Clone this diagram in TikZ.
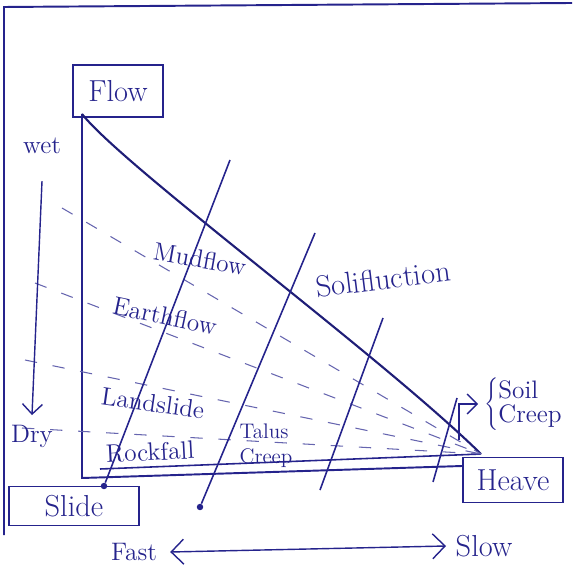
\documentclass[tikz,border=0pt]{standalone}
\usepackage{tikz}
\usetikzlibrary{arrows.meta,positioning}
\definecolor{ink}{HTML}{25238C}
\colorlet{inkline}{ink!85!black}
\colorlet{inkfaint}{ink!70}

\begin{document}
\begin{tikzpicture}[
  x=0.02cm, y=-0.02cm,
  every node/.style={text=ink, font=\Large},   % all writing in the same ink
  frame/.style={line width=1.1pt, draw=ink},
  endbox/.style={rectangle, draw=ink, line width=1.1pt, font=\LARGE, inner sep=2pt},
  mainline/.style={line width=1.2pt, draw=inkline},
  zone/.style={line width=0.9pt, draw=ink},
  zonedot/.style={circle, fill=ink, inner sep=1.3pt},
  band/.style={draw=inkfaint, line width=0.6pt, dash pattern=on 7pt off 9pt},
  base/.style={line width=0.9pt, draw=ink},
  leader/.style={-{Straight Barb[length=2mm]}, line width=0.8pt, draw=ink},
  speed/.style={{Straight Barb[length=2.5mm]}-{Straight Barb[length=2.5mm]}, line width=0.8pt, draw=ink}
]
\useasboundingbox (0,0) rectangle (572,573);

% ---------- Outer frame ----------
\draw[frame] (4,535) -- (4,7) -- (572,3);

% ---------- End members ----------
\node[endbox, minimum width=1.8cm, minimum height=1.05cm] (Flow)  at (118,91)  {Flow};
\node[endbox, minimum width=2.6cm, minimum height=0.78cm] (Slide) at (74,506)  {Slide};
\node[endbox, minimum width=2.0cm, minimum height=0.9cm]  (Heave) at (513,480) {Heave};

% ---------- Geometry ----------
\coordinate (FlowFoot) at (82,114);
\coordinate (Origin)   at (82,478);
\coordinate (Apex)     at (481,454);
\coordinate (RockStart) at (100,469);

% ---------- Axes of the triangle ----------
\draw[frame] (FlowFoot) -- (Origin) -- (Heave.west |- 0,466);
\draw[base] (RockStart) -- (Apex);
\draw[mainline] (FlowFoot) .. controls (125,168) and (380,355) .. (Apex);

% ---------- Moisture bands (dashed fan) ----------
\coordinate (B1) at (62,208);
\coordinate (B2) at (35,283);
\coordinate (B3) at (25,360);
\coordinate (B4) at (22,428);
\draw[band] (B1) -- (Apex);
\draw[band] (B2) -- (Apex);
\draw[band] (B3) -- (Apex);
\draw[band] (B4) -- (Apex);

% ---------- Speed zones ----------
\coordinate (Z1t) at (230,160); \node[zonedot] (Z1b) at (104,486) {};
\coordinate (Z2t) at (315,233); \node[zonedot] (Z2b) at (200,507) {};
\coordinate (Z3t) at (383,318); \coordinate (Z3b) at (320,490);
\coordinate (Z4t) at (457,398); \coordinate (Z4b) at (433,482);
\draw[zone] (Z1t) -- (Z1b);
\draw[zone] (Z2t) -- (Z2b);
\draw[zone] (Z3t) -- (Z3b);
\draw[zone] (Z4t) -- (Z4b);

% ---------- Process labels ----------
\node[rotate=-10] (Mudflow)   at (200,259) {Mudflow};
\node[rotate=-12] (Earthflow) at (165,316) {Earthflow};
\node[rotate=7, font=\LARGE] (Solif) at (383,279) {Solifluction};
\node[rotate=-8]  (Landslide) at (153,403) {Landslide};
\node[rotate=3]   (Rockfall)  at (150,452) {Rockfall};
\node[align=left, inner sep=1pt, font=\large] (Talus) at (266,446) {Talus\\Creep};
\node[align=left] (SoilCreep) at (524,404)
  {$\left\{\begin{tabular}{@{}l@{}}Soil\\[-4pt]Creep\end{tabular}\right.$};
\coordinate (SoilFoot) at (459,440);
\draw[leader] (SoilFoot) |- (SoilCreep.west);

% ---------- Moisture axis ----------
\node (Wet) at (42,146) {wet};
\node (Dry) at (32,436) {Dry};
\draw[leader] ([yshift=-12pt]Wet.south) -- ([yshift=2pt]Dry.north);

% ---------- Speed axis ----------
\node (Fast) at (134,552) {Fast};
\node[font=\LARGE] (Slow) at (484,546) {Slow};
\draw[speed] ([xshift=4pt]Fast.east) -- ([xshift=-2pt]Slow.west);

\end{tikzpicture}
\end{document}
